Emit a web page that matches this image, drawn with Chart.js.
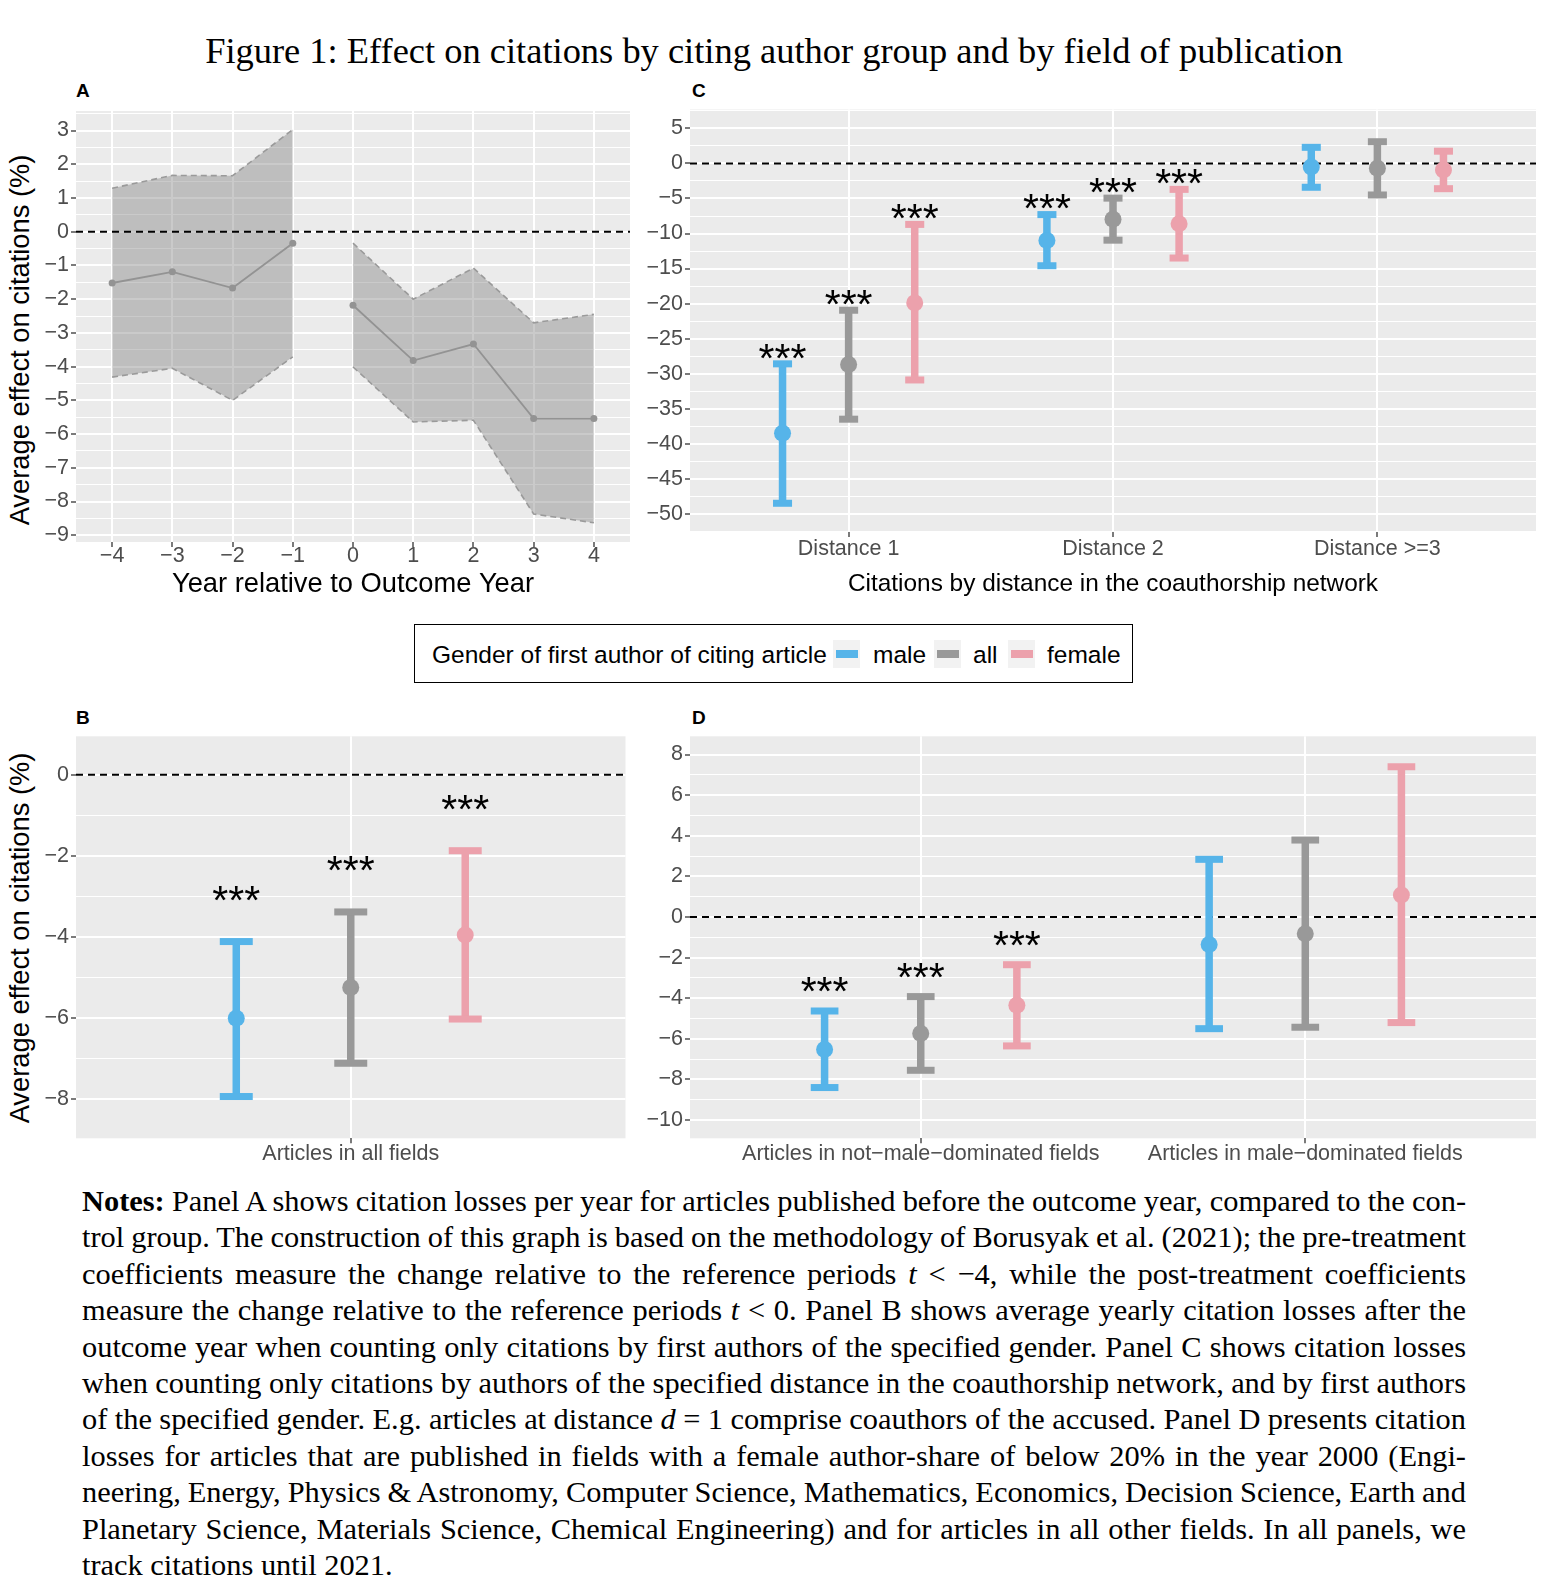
<!DOCTYPE html>
<html>
<head>
<meta charset="utf-8">
<title>Figure 1</title>
<script src="https://cdn.jsdelivr.net/npm/chart.js@4.4.1/dist/chart.umd.min.js"></script>
<style>
  html, body { margin: 0; padding: 0; background: #fff; }
  body { position: relative; width: 1554px; height: 1582px; overflow: hidden;
         font-family: "Liberation Sans", Arial, Helvetica, sans-serif; color: #000; }
  .abs { position: absolute; }
  #fig-title { left: 0; top: 33px; width: 1548px; text-align: center; white-space: nowrap;
               font-family: "Liberation Serif", "Times New Roman", serif; font-size: 36.45px; line-height: 36px; }
  .tag { font-weight: bold; font-size: 19px; line-height: 19px; }
  .ytitle { font-size: 27.3px; line-height: 30px; white-space: nowrap;
            transform: translate(-50%, -50%) rotate(-90deg); }
  #legend { left: 414px; top: 624px; width: 719px; height: 59px; border: 1px solid #000; box-sizing: border-box; }
  .lg { top: 643px; font-size: 24.5px; line-height: 24px; white-space: nowrap; }
  .key { top: 640px; width: 27px; height: 28px; background: #F2F2F2; }
  .key span { position: absolute; left: 3px; top: 10px; width: 22px; height: 8px; }
  #notes { left: 82px; top: 1183px; width: 1384px; font-family: "Liberation Serif", "Times New Roman", serif;
           font-size: 30.4px; line-height: 36.4px; }
  #notes div { white-space: nowrap; text-align: left; }
  #notes div.just { text-align: justify; text-align-last: justify; }
</style>
</head>
<body>

<div id="fig-title" class="abs">Figure 1: Effect on citations by citing author group and by field of publication</div>

<div class="abs tag" style="left:76px;top:81px">A</div>
<div class="abs tag" style="left:692px;top:81px">C</div>
<div class="abs tag" style="left:76px;top:708px">B</div>
<div class="abs tag" style="left:692px;top:708px">D</div>

<div class="abs ytitle" style="left:20px;top:340px">Average effect on citations (%)</div>
<div class="abs ytitle" style="left:20px;top:938px">Average effect on citations (%)</div>

<canvas id="chartA" class="abs" width="634" height="510" style="left:0;top:100px"></canvas>
<canvas id="chartC" class="abs" width="922" height="510" style="left:632px;top:100px"></canvas>
<canvas id="chartB" class="abs" width="634" height="460" style="left:0;top:720px"></canvas>
<canvas id="chartD" class="abs" width="922" height="460" style="left:632px;top:720px"></canvas>

<div id="legend" class="abs"></div>
<div class="abs lg" style="left:432px">Gender of first author of citing article</div>
<div id="legend-items"></div>

<div id="notes" class="abs">
  <div><span><b>Notes:</b> Panel A shows citation losses per year for articles published before the outcome year, compared to the con-</span></div>
  <div><span>trol group. The construction of this graph is based on the methodology of Borusyak et al. (2021); the pre-treatment</span></div>
  <div><span>coefficients measure the change relative to the reference periods <i>t</i> &lt; &minus;4, while the post-treatment coefficients</span></div>
  <div><span>measure the change relative to the reference periods <i>t</i> &lt; 0. Panel B shows average yearly citation losses after the</span></div>
  <div><span>outcome year when counting only citations by first authors of the specified gender. Panel C shows citation losses</span></div>
  <div><span>when counting only citations by authors of the specified distance in the coauthorship network, and by first authors</span></div>
  <div><span>of the specified gender. E.g. articles at distance <i>d</i> = 1 comprise coauthors of the accused. Panel D presents citation</span></div>
  <div><span>losses for articles that are published in fields with a female author-share of below 20% in the year 2000 (Engi-</span></div>
  <div><span>neering, Energy, Physics &amp; Astronomy, Computer Science, Mathematics, Economics, Decision Science, Earth and</span></div>
  <div><span>Planetary Science, Materials Science, Chemical Engineering) and for articles in all other fields. In all panels, we</span></div>
  <div class="last"><span>track citations until 2021.</span></div>
</div>

<script>
// ---- data ----
const genders = ['male', 'all', 'female'];
const genderColors = ['#56B4E9', '#999999', '#ECA1AC'];

// panel A: event study
const yearsA = [-4, -3, -2, -1, 0, 1, 2, 3, 4];
const estA   = [-1.52, -1.19, -1.67, -0.34, -2.18, -3.82, -3.33, -5.54, -5.54];
const upperA = [1.29, 1.67, 1.66, 3.03, -0.34, -2.00, -1.08, -2.70, -2.45];
const lowerA = [-4.31, -4.05, -5.00, -3.71, -4.01, -5.64, -5.59, -8.37, -8.63];
const yTicksA = [-9, -8, -7, -6, -5, -4, -3, -2, -1, 0, 1, 2, 3];

// panel B: all fields
const catsB = ['Articles in all fields'];
const estB_male = [-6.00],   loB_male = [-7.93],   hiB_male = [-4.11];
const estB_all = [-5.24],    loB_all = [-7.11],    hiB_all = [-3.38];
const estB_female = [-3.95], loB_female = [-6.02], hiB_female = [-1.87];
const sigB = ['***'];
const yTicksB = [-8, -6, -4, -2, 0];

// panel C: distance in coauthorship network
const catsC = ['Distance 1', 'Distance 2', 'Distance >=3'];
const estC_male = [-38.5, -11.0, -0.5];
const loC_male = [-48.5, -14.6, -3.4];
const hiC_male = [-28.6, -7.3, 2.3];
const estC_all = [-28.7, -7.95, -0.67];
const loC_all = [-36.5, -10.95, -4.5];
const hiC_all = [-20.95, -4.95, 3.1];
const estC_female = [-19.9, -8.6, -0.95];
const loC_female = [-30.9, -13.5, -3.6];
const hiC_female = [-8.7, -3.7, 1.75];
const sigC = ['***', '***', ''];
const yTicksC = [-50, -45, -40, -35, -30, -25, -20, -15, -10, -5, 0, 5];

// panel D: male-dominated vs other fields
const catsD = ['Articles in not\u2212male\u2212dominated fields', 'Articles in male\u2212dominated fields'];
const estD_male = [-6.53, -1.35];
const loD_male = [-8.40, -5.50];
const hiD_male = [-4.63, 2.84];
const estD_all = [-5.74, -0.82];
const loD_all = [-7.55, -5.43];
const hiD_all = [-3.92, 3.79];
const estD_female = [-4.35, 1.08];
const loD_female = [-6.35, -5.20];
const hiD_female = [-2.35, 7.40];
const sigD = ['***', ''];
const yTicksD = [-10, -8, -6, -4, -2, 0, 2, 4, 6, 8];

// ---- helpers ----
const fam = '"Liberation Sans", Arial, Helvetica, sans-serif';
Chart.defaults.font.family = fam;
Chart.defaults.animation = false;
const tickFont = { size: 21.5, lineHeight: 1 };

function fmt(v) { return v < 0 ? '\u2212' + Math.abs(v) : String(v); }

// ggplot style: minor lines half way between the majors
function withMinor(major, lo, hi) {
  const s = [...major].sort((a, b) => a - b);
  const d = s[1] - s[0];
  const out = [...s, s[0] - d / 2, s[s.length - 1] + d / 2];
  for (let i = 0; i < s.length - 1; i++) out.push((s[i] + s[i + 1]) / 2);
  return out.filter(v => v >= lo && v <= hi).sort((a, b) => a - b);
}

function noPad(s) { s.paddingTop = 0; s.paddingBottom = 0; s.paddingLeft = 0; s.paddingRight = 0; }

function yAxis(min, max, major, w) {
  return {
    type: 'linear', min, max,
    afterBuildTicks: s => { s.ticks = withMinor(major, min, max).map(v => ({ value: v })); },
    afterFit: s => { s.width = w; noPad(s); },
    ticks: { autoSkip: false, padding: 2, color: '#4D4D4D', font: tickFont,
             callback: v => major.includes(v) ? fmt(v) : '' },
    grid: { color: '#FFFFFF',
            lineWidth: c => major.includes(c.tick.value) ? 2 : 1,
            tickColor: c => major.includes(c.tick.value) ? '#333333' : 'rgba(0,0,0,0)',
            tickLength: 5, tickWidth: 1.3 },
    border: { display: false }
  };
}

function xAxis(min, max, vals, labelOf, h, pad, title, titleSize, titlePad) {
  return {
    type: 'linear', min, max,
    afterBuildTicks: s => { s.ticks = vals.map(v => ({ value: v })); },
    afterFit: s => { s.height = h; noPad(s); },
    ticks: { autoSkip: false, maxRotation: 0, minRotation: 0, padding: pad, color: '#4D4D4D',
             font: tickFont, callback: (v, i) => labelOf(v, i) },
    grid: { color: '#FFFFFF', lineWidth: 2, tickColor: '#333333', tickLength: 5, tickWidth: 1.3 },
    border: { display: false },
    title: title ? { display: true, text: title, color: '#000', font: { size: titleSize, lineHeight: 1.2 },
                     padding: { top: 0, bottom: titlePad } } : { display: false }
  };
}

function zeroLine(chart) {
  const { ctx, chartArea: a, scales: { y } } = chart;
  const py = y.getPixelForValue(0);
  ctx.save();
  ctx.strokeStyle = '#000';
  ctx.lineWidth = 2;
  ctx.setLineDash([7, 5]);
  ctx.beginPath(); ctx.moveTo(a.left, py); ctx.lineTo(a.right, py); ctx.stroke();
  ctx.restore();
}

function panelBg(chart) {
  const { ctx, chartArea: a } = chart;
  ctx.save(); ctx.fillStyle = '#EBEBEB'; ctx.fillRect(a.left, a.top, a.width, a.height); ctx.restore();
}

// error bars + stars, drawn through the chart's own scales
function barsPlugin(groups, starOff) {
  return {
    id: 'errbars',
    beforeDraw: panelBg,
    beforeDatasetsDraw(chart) {
      zeroLine(chart);
      const { ctx, scales: { x, y } } = chart;
      ctx.save();
      groups.forEach(g => {
        ctx.strokeStyle = g.color; ctx.fillStyle = g.color; ctx.lineWidth = 7.5;
        g.xs.forEach((xv, i) => {
          const px = x.getPixelForValue(xv);
          const yl = y.getPixelForValue(g.lo[i]), yh = y.getPixelForValue(g.hi[i]);
          const half = x.getPixelForValue(xv + 0.036) - px;
          ctx.beginPath(); ctx.moveTo(px, yl); ctx.lineTo(px, yh); ctx.stroke();
          ctx.fillRect(px - half, yh - 3.5, 2 * half, 7);
          ctx.fillRect(px - half, yl - 3.5, 2 * half, 7);
        });
      });
      ctx.restore();
    },
    afterDatasetsDraw(chart) {
      const { ctx, scales: { x, y } } = chart;
      ctx.save();
      ctx.fillStyle = '#000'; ctx.font = '41px ' + fam;
      ctx.textAlign = 'center'; ctx.textBaseline = 'alphabetic';
      groups.forEach(g => g.xs.forEach((xv, i) => {
        if (!g.sig[i]) return;
        ctx.fillText(g.sig[i], x.getPixelForValue(xv), y.getPixelForValue(g.hi[i] + starOff) + 23.5);
      }));
      ctx.restore();
    }
  };
}

function dotPanel(id, cats, est, lo, hi, sig, yMin, yMax, yTicks, starOff, lay) {
  const dodge = [-0.25, 0, 0.25];
  const groups = genders.map((g, k) => ({
    color: genderColors[k], xs: cats.map((c, i) => i + 1 + dodge[k]), lo: lo[k], hi: hi[k], sig: sig
  }));
  const datasets = genders.map((g, k) => ({
    label: g,
    data: cats.map((c, i) => ({ x: i + 1 + dodge[k], y: est[k][i] })),
    pointRadius: 8.5, pointHoverRadius: 8.5, pointBorderWidth: 0,
    pointBackgroundColor: genderColors[k], backgroundColor: genderColors[k], showLine: false
  }));
  new Chart(document.getElementById(id), {
    type: 'scatter',
    data: { datasets },
    options: {
      responsive: false, animation: false, events: [],
      layout: { padding: lay.padding },
      plugins: { legend: { display: false }, tooltip: { enabled: false } },
      scales: {
        x: xAxis(0.4, cats.length + 0.6, cats.map((c, i) => i + 1), (v, i) => cats[i],
                 lay.xh, lay.tickPad, lay.title, lay.titleSize, lay.titlePad),
        y: yAxis(yMin, yMax, yTicks, lay.yw)
      }
    },
    plugins: [barsPlugin(groups, starOff)]
  });
}

// ---- panel A ----
(function () {
  const pre = yearsA.map((v, i) => i).filter(i => yearsA[i] < 0);
  const post = yearsA.map((v, i) => i).filter(i => yearsA[i] >= 0);
  const pts = (idx, arr) => idx.map(i => ({ x: yearsA[i], y: arr[i] }));
  const datasets = [];
  [pre, post].forEach(idx => {
    datasets.push({ data: pts(idx, estA), borderColor: '#939393', borderWidth: 1.8, pointRadius: 3.5,
                    pointBackgroundColor: '#939393', pointBorderWidth: 0, fill: false, tension: 0 });
    datasets.push({ data: pts(idx, upperA), borderColor: '#9A9A9A', borderWidth: 1.6, borderDash: [6, 4],
                    pointRadius: 0, fill: false, tension: 0 });
    datasets.push({ data: pts(idx, lowerA), borderColor: '#9A9A9A', borderWidth: 1.6, borderDash: [6, 4],
                    pointRadius: 0, fill: '-1', backgroundColor: 'rgba(128,128,128,0.42)', tension: 0 });
  });
  new Chart(document.getElementById('chartA'), {
    type: 'line',
    data: { datasets },
    options: {
      responsive: false, animation: false, events: [],
      layout: { padding: { left: 0, top: 11, right: 3, bottom: 0 } },
      plugins: { legend: { display: false }, tooltip: { enabled: false } },
      scales: {
        x: xAxis(-4.6, 4.6, yearsA, v => fmt(v), 68, -1.5, 'Year relative to Outcome Year', 27.3, 9),
        y: yAxis(-9.2, 3.58, yTicksA, 76)
      }
    },
    plugins: [{ id: 'bgA', beforeDraw: panelBg, afterDatasetsDraw: zeroLine }]
  });
})();

// ---- panels B, C, D ----
dotPanel('chartC', catsC,
  [estC_male, estC_all, estC_female], [loC_male, loC_all, loC_female], [hiC_male, hiC_all, hiC_female],
  sigC, -52.6, 7.7, yTicksC, 2.26,
  { padding: { left: 0, top: 9.5, right: 18, bottom: 0 }, yw: 58, xh: 78, tickPad: 1,
    title: 'Citations by distance in the coauthorship network', titleSize: 24.4, titlePad: 11.5 });

dotPanel('chartB', catsB,
  [estB_male, estB_all, estB_female], [loB_male, loB_all, loB_female], [hiB_male, hiB_all, hiB_female],
  sigB, -8.96, 0.95, yTicksB, 1.26,
  { padding: { left: 0, top: 16.3, right: 3, bottom: 0 }, yw: 76, xh: 41.7, tickPad: 0 });

dotPanel('chartD', catsD,
  [estD_male, estD_all, estD_female], [loD_male, loD_all, loD_female], [hiD_male, hiD_all, hiD_female],
  sigD, -10.9, 8.9, yTicksD, 1.43,
  { padding: { left: 0, top: 16.3, right: 18, bottom: 0 }, yw: 58, xh: 41.7, tickPad: 0 });

// ---- legend ----
const keyLeft = [833, 934, 1008];
const textLeft = [873, 973, 1047];
const items = document.getElementById('legend-items');
genders.forEach((g, k) => {
  const key = document.createElement('div');
  key.className = 'abs key';
  key.style.left = keyLeft[k] + 'px';
  const bar = document.createElement('span');
  bar.style.background = genderColors[k];
  key.appendChild(bar);
  items.appendChild(key);
  const t = document.createElement('div');
  t.className = 'abs lg';
  t.style.left = textLeft[k] + 'px';
  t.textContent = g;
  items.appendChild(t);
});

// ---- notes: squeeze lines that are too long, then justify ----
const notesW = document.getElementById('notes').clientWidth;
document.querySelectorAll('#notes div').forEach(d => {
  if (d.classList.contains('last')) return;
  const span = d.firstElementChild;
  const w = span.getBoundingClientRect().width;
  const spaces = (span.textContent.match(/ /g) || []).length;
  if (w > notesW && spaces) span.style.wordSpacing = ((notesW - w) / spaces) + 'px';
  d.classList.add('just');
});
</script>
</body>
</html>
